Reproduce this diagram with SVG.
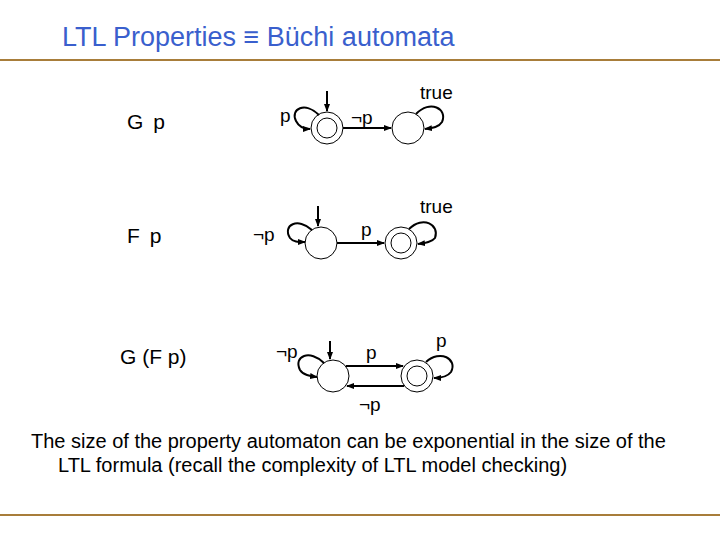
<svg xmlns="http://www.w3.org/2000/svg" width="720" height="540" viewBox="0 0 720 540">
<style>
text{font-family:"Liberation Sans",Arial,sans-serif;fill:#000}
.st{fill:#fff;stroke:#000;stroke-width:1}
.e{fill:none;stroke:#000;stroke-width:2;marker-end:url(#a)}
.l{font-size:19px}
</style>
<defs><marker id="a" markerWidth="8" markerHeight="8" refX="7" refY="4" orient="auto" markerUnits="userSpaceOnUse"><path d="M0,1 L8,4 L0,7z"/></marker></defs>
<rect width="720" height="540" fill="#fff"/>
<text x="62" y="46" font-size="27" style="fill:#3a5fcd">LTL Properties ≡ Büchi automata</text>
<line x1="0" y1="60" x2="720" y2="60" stroke="#a87d3a" stroke-width="2"/>
<line x1="0" y1="515" x2="720" y2="515" stroke="#a87d3a" stroke-width="2"/>
<text x="127" y="129" font-size="21" letter-spacing="2">G p</text>
<text x="127" y="243" font-size="21" letter-spacing="2">F p</text>
<text x="120" y="364" font-size="21">G (F p)</text>
<g id="n1a"><circle class="st" cx="327" cy="128" r="16"/><circle class="st" cx="327" cy="128" r="10"/></g>
<g id="n1b"><circle class="st" cx="408" cy="128" r="16"/></g>
<g id="n2a"><circle class="st" cx="321" cy="243" r="16"/></g>
<g id="n2b"><circle class="st" cx="401" cy="243" r="16"/><circle class="st" cx="401" cy="243" r="10"/></g>
<g id="n3a"><circle class="st" cx="333" cy="376" r="16"/></g>
<g id="n3b"><circle class="st" cx="417" cy="376" r="16"/><circle class="st" cx="417" cy="376" r="10"/></g>
<g id="edges">
<path class="e" d="M327,91 V111"/>
<path class="e" d="M318,206 V226"/>
<path class="e" d="M330,341 V359"/>
<path class="e" d="M319,115 C305,101 290,109 296,121 C299,127 304,129 310,129"/>
<path class="e" d="M343,128 H391"/>
<path class="e" d="M416,114 C430,99 448,109 442,122 C439,127 433,128 425,129"/>
<path class="e" d="M312,230 C298,217 282,225 290,238 C293,242 298,242 305,242"/>
<path class="e" d="M337,243 H384"/>
<path class="e" d="M409,229 C423,215 440,225 435,238 C432,242 426,243 418,244"/>
<path class="e" d="M324,363 C310,349 293,356 300,370 C303,375 310,376 317,377"/>
<path class="e" d="M346,366 H403"/>
<path class="e" d="M404,386 H347"/>
<path class="e" d="M426,362 C440,349 458,359 451,372 C448,376 442,378 434,378"/>
</g>
<text class="l" x="280" y="122">p</text>
<text class="l" x="351" y="124">¬p</text>
<text class="l" x="420" y="99">true</text>
<text class="l" x="253" y="241">¬p</text>
<text class="l" x="361" y="236">p</text>
<text class="l" x="420" y="213">true</text>
<text class="l" x="276" y="358">¬p</text>
<text class="l" x="366" y="359">p</text>
<text class="l" x="436" y="347">p</text>
<text class="l" x="359" y="411">¬p</text>
<text x="31" y="448" font-size="20">The size of the property automaton can be exponential  in the size of the</text>
<text x="58" y="472" font-size="20">LTL formula (recall the complexity of LTL model checking)</text>
</svg>
